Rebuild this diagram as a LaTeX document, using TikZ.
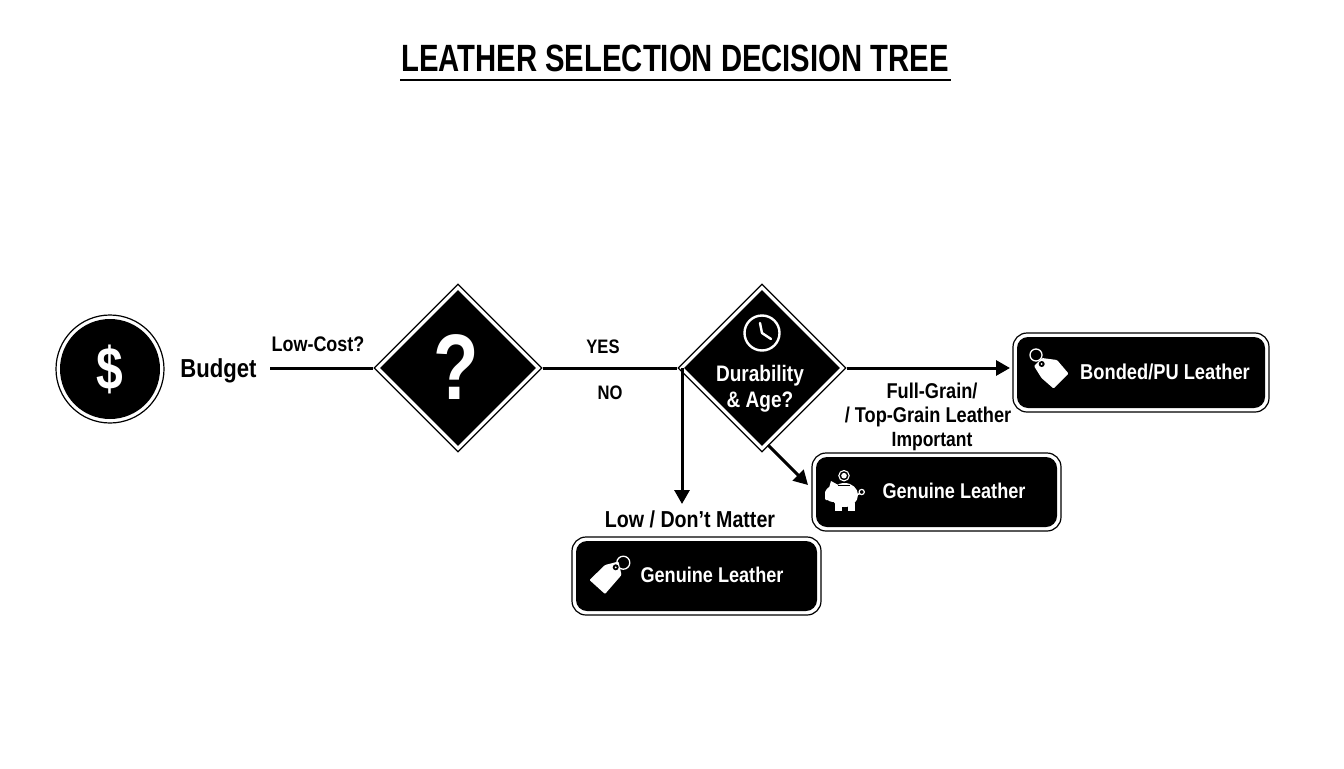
\documentclass[tikz,border=0pt]{standalone}
\usepackage{fontspec}
\setmainfont[FakeStretch=0.85]{Liberation Sans}
\newfontfamily\ttlfont[FakeStretch=0.77]{Liberation Sans}
\newfontfamily\symfont[FakeStretch=0.8]{Liberation Sans}
\usetikzlibrary{shapes.geometric,arrows.meta,calc}
\tikzset{
  x=1bp,y=-1bp,
  rim/.style={draw=black,fill=white,line width=1.2bp,inner sep=0pt},
  core/.style={fill=black,draw=none,inner sep=0pt},
  dmd/.style={diamond,aspect=1,minimum width=#1,minimum height=#1},
  rbox/.style n args={2}{rectangle,rounded corners=#2,minimum width=#1,minimum height=79bp},
  lab/.style={font=\bfseries\fontsize{21.4bp}{25.5bp}\selectfont,text=black,inner sep=0pt,align=center},
  wlab/.style={lab,text=white},
  conn/.style={line width=3bp,draw=black},
  arr/.style={conn,-{Triangle[length=14bp,width=15bp]}},
  ico/.style={white,line width=2.4bp},
}
\begin{document}
\begin{tikzpicture}
\useasboundingbox (0,0) rectangle (1344,768);
% title
\node[lab,font=\ttlfont\bfseries\fontsize{38bp}{42bp}\selectfont] (title) at (675,58) {LEATHER SELECTION DECISION TREE};
\coordinate (ula) at (400,80); \coordinate (ulb) at (951,80);
\draw[line width=2bp] (ula) -- (ulb);
% start
\node[circle,rim,minimum size=108bp] (c) at (110,369) {};
\node[circle,core,minimum size=100bp] (ci) at (110,369) {};
\node[wlab,font=\symfont\bfseries\fontsize{60bp}{66bp}\selectfont] (dollar) at (110,369) {\$};
\node[lab,font=\bfseries\fontsize{26bp}{30bp}\selectfont] (budget) at (218.5,370.5) {Budget};
% diamonds
\node[dmd=168bp,rim] (d1) at (458,368) {};
\node[dmd=156bp,core] (d1i) at (458,368) {};
\node[wlab,font=\symfont\bfseries\fontsize{93bp}{100bp}\selectfont] (q) at (456.5,367) {?};
\node[dmd=168bp,rim] (d2) at (762,368) {};
\node[dmd=156bp,core] (d2i) at (762,368) {};
\node[wlab,font=\bfseries\fontsize{22.4bp}{26bp}\selectfont] (dur) at (760,389) {Durability\\\& Age?};
% clock
\node[circle,draw=white,line width=2.4bp,minimum size=35bp,inner sep=0pt] (clk) at (762,333) {};
\coordinate (h1) at (760,323); \coordinate (h2) at (771,339); \coordinate (h0) at (762,333);
\draw[ico,line cap=round,line join=round] (h1) -- (h0) -- (h2);
% boxes
\node[rbox={256bp}{14bp},rim] (b1) at (1141,372.5) {};
\node[rbox={248bp}{11bp},core,minimum height=71bp] (b1i) at (1141,372.5) {};
\node[wlab,font=\bfseries\fontsize{21.5bp}{25bp}\selectfont] (b1t) at (1165,372) {Bonded/PU Leather};
\node[rbox={249bp}{14bp},rim,minimum height=78bp] (b2) at (936.5,492) {};
\node[rbox={241bp}{11bp},core,minimum height=70bp] (b2i) at (936.5,492) {};
\node[wlab,font=\bfseries\fontsize{21.3bp}{25bp}\selectfont] (b2t) at (954,491) {Genuine Leather};
\node[rbox={249bp}{14bp},rim,minimum height=78bp] (b3) at (696.5,576) {};
\node[rbox={241bp}{11bp},core,minimum height=70bp] (b3i) at (696.5,576) {};
\node[wlab,font=\bfseries\fontsize{21.3bp}{25bp}\selectfont] (b3t) at (712,575) {Genuine Leather};
% tag box 1
\draw[white,line width=1.3bp] (1036,355) circle (6);
\fill[white,rounded corners=1bp] (1034,366) -- (1042,358) -- (1057,360) -- (1068.5,373.5) -- (1053.5,388.5) -- (1041.5,378) -- cycle;
\fill[black] (1041.7,364) circle (3);
\fill[white] (1041.7,364) circle (1);
% tag box 3
\draw[white,line width=1.3bp] (623.3,562.7) circle (6.5);
\fill[white,rounded corners=1bp] (589.5,580) -- (605,565) -- (618.5,561.5) -- (621.5,575) -- (605,594) -- cycle;
\fill[black] (615.7,567.3) circle (3);
\fill[white] (615.7,567.3) circle (1);
% piggy
\draw[white,line width=1.2bp] (861.7,492) circle (2.6);
\draw[white,line width=1.5bp] (856,495) -- (860,493.5);
\fill[white] (844.5,495) ellipse (13.5 and 12);
\fill[white] (833,494) circle (8);
\fill[white,rounded corners=1bp] (825,491) rectangle (832,500);
\fill[white] (829,488) -- (831,481) -- (840,486) -- cycle;
\fill[white] (835,503) rectangle (842,510.5);
\fill[white] (848,503) rectangle (855,510.5);
\draw[black,line width=1.2bp] (838,485.7) -- (850,485.7);
\draw[white,line width=1.1bp] (844,475.7) circle (5.2);
\fill[white] (844,475.7) circle (2.8);
% labels
\node[lab,font=\bfseries\fontsize{21.1bp}{25bp}\selectfont] (lc) at (318,344) {Low-Cost?};
\node[lab,font=\bfseries\fontsize{19.5bp}{24bp}\selectfont] (yes) at (603,347) {YES};
\node[lab,font=\bfseries\fontsize{19.5bp}{24bp}\selectfont] (no) at (610,393) {NO};
\node[lab] (fg1) at (932,391) {Full-Grain/};
\node[lab] (fg2) at (928,417) {/ Top-Grain Leather};
\node[lab,font=\bfseries\fontsize{20.6bp}{25bp}\selectfont] (fg3) at (932,442) {Important};
\node[lab,font=\bfseries\fontsize{23.1bp}{27bp}\selectfont] (low) at (690,519) {Low / Don't Matter};
% connectors
\coordinate (bs) at (270,368);
\coordinate (dw) at (682,368); \coordinate (de) at (682,504);
\coordinate (ds) at (768,445); \coordinate (dt) at (808,485);
\coordinate (ae) at (1010,368);
\draw[conn] (bs) -- (d1.west);
\draw[conn] (d1.east) -- (d2.west);
\draw[arr] (d2.east) -- (ae);
\draw[arr] (dw) -- (de);
\draw[arr] (ds) -- (dt);
\end{tikzpicture}
\end{document}
